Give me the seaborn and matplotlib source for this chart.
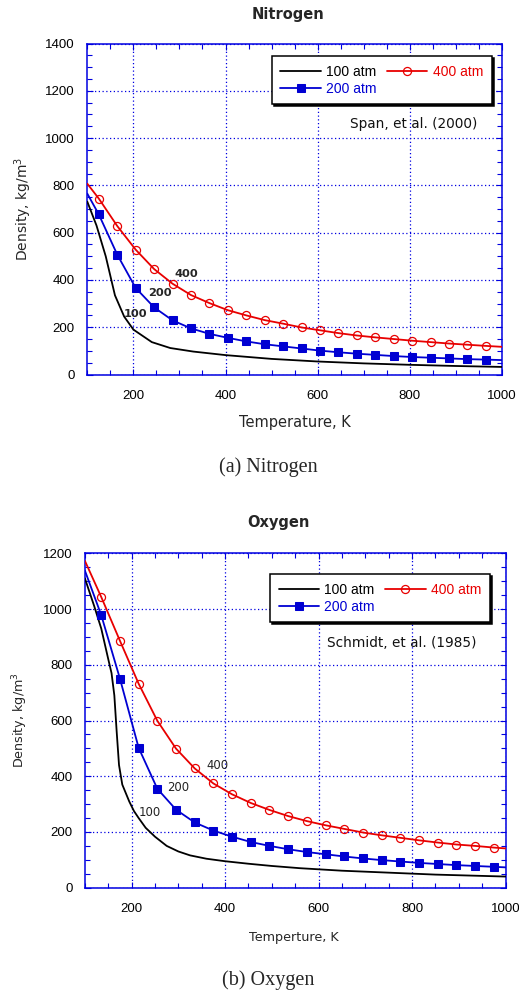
import matplotlib
matplotlib.use("Agg")
import matplotlib.pyplot as plt
import pandas as pd
import seaborn as sns
from matplotlib.ticker import MultipleLocator

# ---------------- Nitrogen (Span et al., 2000) ----------------
n2_T_100 = [100, 120, 140, 160, 180, 200, 240, 280, 330, 400, 500, 600, 700, 800, 900, 1000]
n2_rho_100 = [731, 630, 500, 335, 245, 190, 137, 112, 97, 82, 66, 55, 47, 41, 36, 32]

n2_T_mk = [100, 125, 165, 205, 245, 285, 325, 365, 405, 445, 485, 525, 565, 605, 645,
           685, 725, 765, 805, 845, 885, 925, 965, 1000]
n2_rho_200 = [765, 677, 507, 366, 284, 229, 195, 172, 155, 140, 128, 119, 110, 101, 94,
              88, 83, 78, 74, 71, 68, 65, 63, 61]
n2_rho_400 = [807, 744, 628, 528, 446, 384, 336, 302, 272, 250, 230, 215, 199, 187, 175,
              165, 157, 150, 143, 137, 131, 126, 121, 117]

# ---------------- Oxygen (Schmidt et al., 1985) ----------------
o2_T_100 = [100, 120, 135, 150, 157, 163, 168, 173, 180, 195, 205, 215, 230, 250, 275,
            300, 325, 360, 400, 450, 500, 560, 650, 750, 850, 1000]
o2_rho_100 = [1110, 1010, 930, 820, 770, 690, 560, 440, 370, 309, 275, 250, 215, 183, 150,
              130, 116, 104, 95, 86, 78, 70, 61, 54, 47, 40]

o2_T_mk = [100, 135, 175, 215, 255, 295, 335, 375, 415, 455, 495, 535, 575, 615, 655,
           695, 735, 775, 815, 855, 895, 935, 975, 1000]
o2_rho_200 = [1138, 978, 750, 502, 355, 280, 234, 205, 183, 164, 150, 138, 128, 120, 112,
              105, 99, 94, 89, 85, 81, 78, 75, 73]
o2_rho_400 = [1173, 1043, 886, 732, 599, 499, 428, 374, 335, 304, 279, 257, 239, 224, 211,
              198, 188, 179, 170, 162, 155, 150, 144, 141]

series_labels = ["100 atm", "200 atm", "400 atm"]
curve_tags = ["100", "200", "400"]

BLACK = "#000000"
BLUE = "#0000d2"
RED = "#e80000"
GRID_BLUE = "#0000e0"

sns.set_style("ticks")
plt.rcParams["font.family"] = ["DejaVu Sans"]

fig = plt.figure(figsize=(5.19, 9.94), dpi=100)
ax1 = fig.add_axes([87.3 / 519, 1 - 374.5 / 994, 414.7 / 519, 331 / 994])
ax2 = fig.add_axes([84.9 / 519, 1 - 887.7 / 994, 420.6 / 519, 334.4 / 994])


def draw_panel(ax, T100, r100, Tmk, r200, r400, ymax):
    inner = list(range(1, len(Tmk) - 1))
    sns.lineplot(x=T100, y=r100, ax=ax, color=BLACK, lw=1.3, label=series_labels[0],
                 sort=False, zorder=3)
    sns.lineplot(x=Tmk, y=r200, ax=ax, color=BLUE, lw=1.3, marker="s", ms=5.4,
                 mec=BLUE, mfc=BLUE, markevery=inner, label=series_labels[1],
                 sort=False, zorder=3)
    sns.lineplot(x=Tmk, y=r400, ax=ax, color=RED, lw=1.3, marker="o", ms=5.8,
                 mec=RED, mfc="none", mew=0.9, markevery=inner, label=series_labels[2],
                 sort=False, zorder=3)
    ax.set_xlim(100, 1000)
    ax.set_ylim(0, ymax)
    ax.xaxis.set_major_locator(MultipleLocator(200))
    ax.xaxis.set_minor_locator(MultipleLocator(50))
    ax.yaxis.set_major_locator(MultipleLocator(200))
    ax.yaxis.set_minor_locator(MultipleLocator(50))
    ax.set_xticks([200, 400, 600, 800, 1000])
    ax.grid(True, which="major", color=GRID_BLUE, linestyle=(0, (1, 2)), lw=0.9)
    ax.set_axisbelow(True)
    for s in ax.spines.values():
        s.set_color(GRID_BLUE)
        s.set_linewidth(1.1)
        s.set_visible(True)
    ax.tick_params(which="both", direction="in", top=True, right=True, color=GRID_BLUE,
                   width=0.8, labelcolor="black")
    ax.tick_params(which="major", length=4.5)
    ax.tick_params(which="minor", length=3.5)
    ax.tick_params(axis="y", pad=9)
    ax.tick_params(axis="x", pad=11)
    for lab in ax.get_xticklabels() + ax.get_yticklabels():
        lab.set_fontfamily("Liberation Sans")
        lab.set_fontsize(9.5)


draw_panel(ax1, n2_T_100, n2_rho_100, n2_T_mk, n2_rho_200, n2_rho_400, 1400)
draw_panel(ax2, o2_T_100, o2_rho_100, o2_T_mk, o2_rho_200, o2_rho_400, 1200)

legend_kw = dict(loc="upper left", ncol=2, frameon=True, fancybox=False,
                 edgecolor="black", framealpha=1, labelcolor="linecolor",
                 prop={"family": "Liberation Sans", "size": 10},
                 handlelength=2.9, handletextpad=0.4, columnspacing=0.75,
                 labelspacing=0.22, borderpad=0.62, borderaxespad=0,
                 shadow={"color": "black", "alpha": 1, "ox": 1.4, "oy": -1.4})
leg1 = ax1.legend(bbox_to_anchor=(0.445, 0.962), **legend_kw)
leg2 = ax2.legend(bbox_to_anchor=(0.44, 0.938), **legend_kw)
for lg in (leg1, leg2):
    lg.get_frame().set_linewidth(1.1)

ax1.text(0.94, 0.757, "Span, et al. (2000)", transform=ax1.transAxes, ha="right",
         va="center", fontsize=9.8, color="#111111")
ax2.text(0.932, 0.732, "Schmidt, et al. (1985)", transform=ax2.transAxes, ha="right",
         va="center", fontsize=9.8, color="#111111")

# pressure tags next to the curves
for (tx, ty), tag in zip([(180, 255), (232, 344), (290, 424)], curve_tags):
    ax1.text(tx, ty, tag, fontsize=8.2, fontweight="bold", va="center", ha="left")
for (tx, ty), tag in zip([(216, 269), (275, 359), (359, 437)], curve_tags):
    ax2.text(tx, ty, tag, fontsize=8.4, va="center", ha="left", color="#222222")

ax1.set_xlabel("Temperature, K", fontsize=10.5)
ax1.xaxis.set_label_coords(0.5, -0.122)
ax1.set_ylabel("Density, kg/m$^3$", fontsize=10)
ax1.yaxis.set_label_coords(-0.128, 0.5)

ax2.set_xlabel("Temperture, K", fontsize=9.2)
ax2.xaxis.set_label_coords(0.497, -0.129)
ax2.set_ylabel("Density, kg/m$^3$", fontsize=9.2)
ax2.yaxis.set_label_coords(-0.131, 0.5)

fig.text(288 / 519, 1 - 15 / 994, "Nitrogen", ha="center", va="center",
         fontsize=10.5, fontweight="bold")
fig.text(278 / 519, 1 - 523 / 994, "Oxygen", ha="center", va="center",
         fontsize=10.5, fontweight="bold")
fig.text(268 / 519, 1 - 467 / 994, "(a) Nitrogen", ha="center", va="center",
         fontsize=14.5, family="Liberation Serif")
fig.text(268 / 519, 1 - 980 / 994, "(b) Oxygen", ha="center", va="center",
         fontsize=14.5, family="Liberation Serif")

fig.savefig("out.png", dpi=100)
